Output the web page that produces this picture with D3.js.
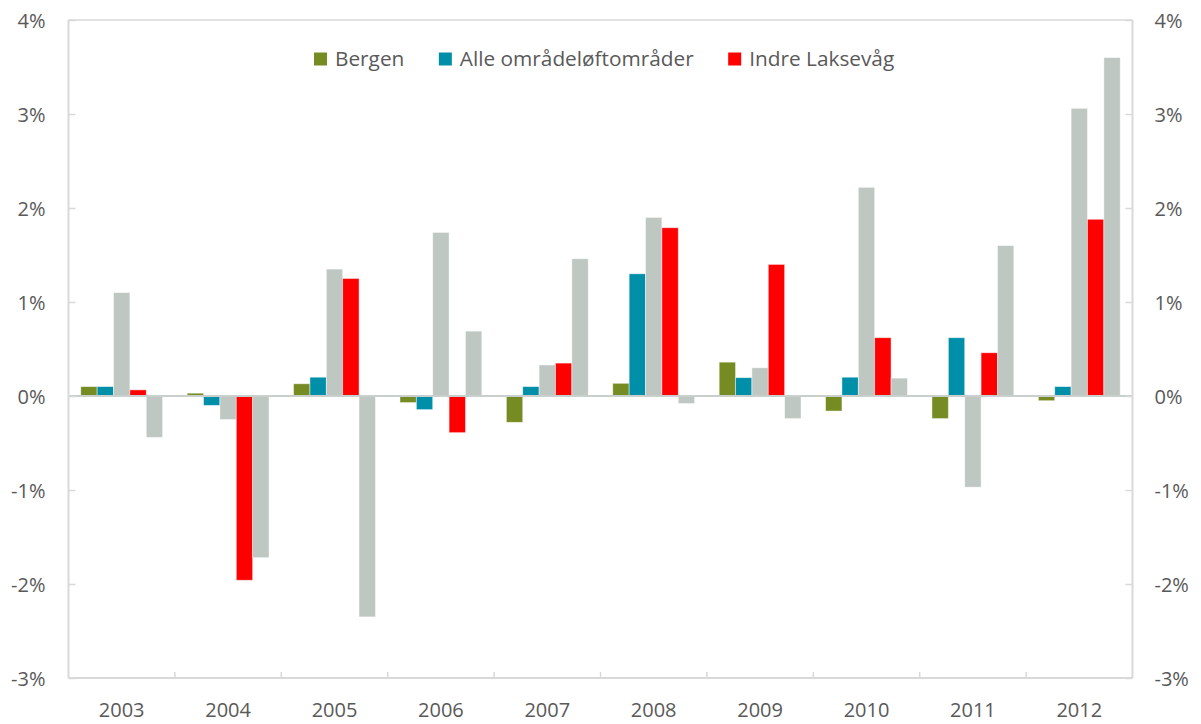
<!DOCTYPE html>
<meta charset="utf-8">
<style>
  body { margin: 0; background: #fff; }
  text { font-family: "Open Sans", sans-serif; font-size: 20px; fill: #595959; }
  .legend text { font-size: 20.8px; }
  .domain { display: none; }
</style>
<script src="https://cdn.jsdelivr.net/npm/d3@7"></script>
<body>
<svg id="chart"></svg>
</body>
<script>
const years = ['2003', '2004', '2005', '2006', '2007', '2008', '2009', '2010', '2011', '2012'];
const bergen = [0.10, 0.03, 0.13, -0.07, -0.28, 0.135, 0.36, -0.16, -0.24, -0.05];
const alle = [0.10, -0.10, 0.20, -0.145, 0.10, 1.30, 0.195, 0.20, 0.62, 0.10];
const grayA = [1.10, -0.25, 1.35, 1.74, 0.33, 1.90, 0.30, 2.22, -0.97, 3.06];
const indre = [0.065, -1.96, 1.25, -0.39, 0.35, 1.79, 1.40, 0.62, 0.46, 1.88];
const grayB = [-0.44, -1.72, -2.35, 0.69, 1.46, -0.08, -0.24, 0.19, 1.60, 3.60];
const yTicks = [-3, -2, -1, 0, 1, 2, 3, 4];

const series = [
  {key: 'bergen', name: 'Bergen', values: bergen, color: '#778b23', legend: true},
  {key: 'alle', name: 'Alle områdeløftområder', values: alle, color: '#008fa8', legend: true},
  {key: 'grayA', name: '', values: grayA, color: '#bfc7c3', legend: false},
  {key: 'indre', name: 'Indre Laksevåg', values: indre, color: '#ff0000', legend: true},
  {key: 'grayB', name: '', values: grayB, color: '#bfc7c3', legend: false}
];

const width = 1201, height = 724;
const plotLeft = 68.5, plotRight = 1132.5, plotTop = 20, plotBottom = 678;

const svg = d3.select('#chart')
    .attr('width', width)
    .attr('height', height);

const x0 = d3.scaleBand().domain(years).range([plotLeft, plotRight]);
const x1 = d3.scaleBand()
    .domain(series.map(function(d) { return d.key; }))
    .range([0, x0.bandwidth()])
    .paddingOuter(0.75);
const y = d3.scaleLinear().domain([-3, 4]).range([plotBottom, plotTop]);

// bars
svg.append('g')
  .selectAll('g')
    .data(series)
  .enter().append('g')
    .attr('fill', function(d) { return d.color; })
  .selectAll('rect')
    .data(function(s) { return s.values.map(function(v, i) { return {key: s.key, year: years[i], value: v}; }); })
  .enter().append('rect')
    .attr('x', function(d) { return x0(d.year) + x1(d.key); })
    .attr('width', x1.bandwidth())
    .attr('y', function(d) { return y(Math.max(0, d.value)); })
    .attr('height', function(d) { return Math.abs(y(d.value) - y(0)); })
    .attr('stroke', 'rgba(255,255,255,0.55)')
    .attr('stroke-width', 0.8);

// zero line
svg.append('line')
    .attr('x1', plotLeft).attr('x2', plotRight)
    .attr('y1', y(0)).attr('y2', y(0))
    .attr('stroke', '#c8cfcc')
    .attr('stroke-width', 2);

// frame: top, bottom, left, right
const frame = svg.append('g').attr('stroke', '#d9d9d9').attr('fill', 'none');
frame.append('line').attr('x1', plotLeft).attr('x2', plotRight).attr('y1', plotTop).attr('y2', plotTop).attr('stroke-width', 1.5);
frame.append('line').attr('x1', plotLeft).attr('x2', plotRight).attr('y1', plotBottom).attr('y2', plotBottom).attr('stroke-width', 2);
frame.append('line').attr('x1', plotLeft).attr('x2', plotLeft).attr('y1', plotTop).attr('y2', plotBottom).attr('stroke-width', 2);
frame.append('line').attr('x1', plotRight).attr('x2', plotRight).attr('y1', plotTop).attr('y2', plotBottom).attr('stroke-width', 2);

// y axes, ticks pointing inward
const fmt = function(d) { return d + '%'; };

svg.append('g')
    .attr('transform', `translate(${plotLeft},0)`)
    .call(d3.axisLeft(y).tickValues(yTicks).tickFormat(fmt).tickSize(-7).tickPadding(23));

svg.append('g')
    .attr('transform', `translate(${plotRight},0)`)
    .call(d3.axisRight(y).tickValues(yTicks).tickFormat(fmt).tickSize(-7).tickPadding(22));

svg.selectAll('.tick line').attr('stroke', '#d9d9d9').attr('stroke-width', 1.5);
svg.selectAll('.tick text').attr('fill', '#595959').attr('dy', '0.35em');

// category boundary ticks on x axis
svg.append('g')
  .selectAll('line')
    .data(years.slice(1))
  .enter().append('line')
    .attr('x1', function(d) { return x0(d); })
    .attr('x2', function(d) { return x0(d); })
    .attr('y1', plotBottom)
    .attr('y2', plotBottom - 6)
    .attr('stroke', '#d9d9d9')
    .attr('stroke-width', 1.5);

svg.append('g')
  .selectAll('text')
    .data(years)
  .enter().append('text')
    .attr('x', function(d) { return x0(d) + x0.bandwidth() / 2; })
    .attr('y', 716.5)
    .attr('text-anchor', 'middle')
    .text(function(d) { return d; });

// legend
const legend = svg.append('g').attr('class', 'legend').attr('transform', 'translate(314,52.5)');
let lx = 0;
series.filter(function(d) { return d.legend; }).forEach(function(s) {
  legend.append('rect')
      .attr('x', lx).attr('y', 0)
      .attr('width', 13).attr('height', 13)
      .attr('fill', s.color);
  const t = legend.append('text')
      .attr('x', lx + 21)
      .attr('y', 13.3)
      .text(s.name);
  lx += 21 + t.node().getComputedTextLength() + 34.5;
});
</script>
